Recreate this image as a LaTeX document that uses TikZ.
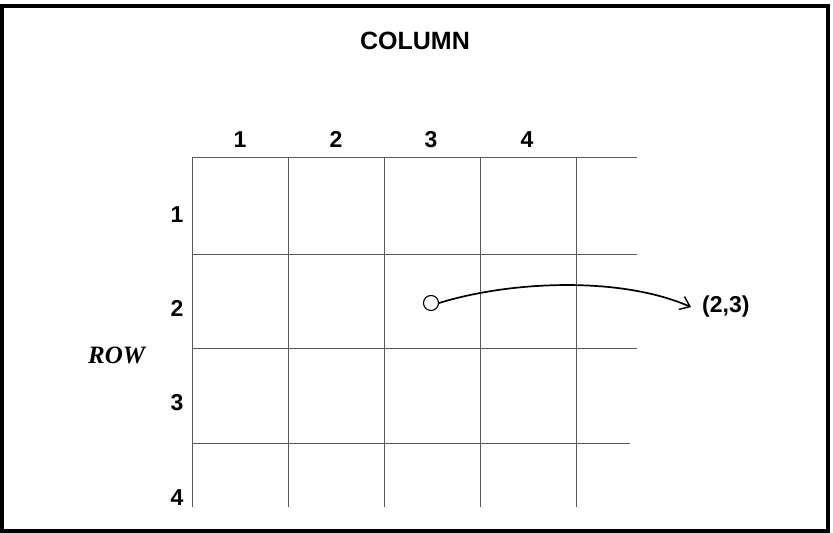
\documentclass[tikz,border=0pt]{standalone}
\usepackage{fontspec}
\setmainfont{Liberation Sans}
\newfontfamily\rowfont{Liberation Serif}
\usetikzlibrary{arrows.meta}
\begin{document}
\begin{tikzpicture}[x=1pt,y=-1pt,
  gridline/.style={line width=0.7pt, draw=black!65},
  frameline/.style={line width=4pt, draw=black},
  lab/.style={inner sep=0pt, anchor=base, font=\fontsize{23}{26}\selectfont\bfseries},
  title/.style={inner sep=0pt, anchor=base, font=\fontsize{25}{28}\selectfont\bfseries},
  rowtitle/.style={inner sep=0pt, anchor=base west, font=\fontsize{25}{28}\selectfont\rowfont\bfseries\itshape},
  dot/.style={circle, draw=black, line width=1.1pt, fill=white, minimum size=15pt, inner sep=0pt},
  curvearrow/.style={line width=1.7pt, -{Straight Barb[length=9pt, width=14pt, line width=1.4pt]}}
]
\useasboundingbox (0,0) rectangle (833,533);
\draw[frameline] (2,6) rectangle (827.5,530.5);
% grid
\foreach \x in {192,288,384,480,576} \draw[gridline] (\x,157) -- (\x,507);
\draw[gridline] (192,157) -- (637,157);
\draw[gridline] (192,254) -- (637,254);
\draw[gridline] (192,348) -- (637,348);
\draw[gridline] (192,443) -- (630,443);
% labels
\node[title] (col) at (415,49) {COLUMN};
\node[lab] (c1) at (240,147) {1};
\node[lab] (c2) at (336,147) {2};
\node[lab] (c3) at (431,147) {3};
\node[lab] (c4) at (527,147) {4};
\node[lab] (r1) at (177,222) {1};
\node[lab] (r2) at (177,316) {2};
\node[lab] (r3) at (177,410) {3};
\node[lab] (r4) at (177,505) {4};
\node[rowtitle] (row) at (88,363) {ROW};
% point and arrow
\node[dot] (pt) at (431,303) {};
\node[lab, anchor=base west] (res) at (702,312) {(2,3)};
\draw[curvearrow] (pt.east) .. controls (510,281) and (620,276) .. ([xshift=-11pt,yshift=-1pt]res.west);
\end{tikzpicture}
\end{document}
